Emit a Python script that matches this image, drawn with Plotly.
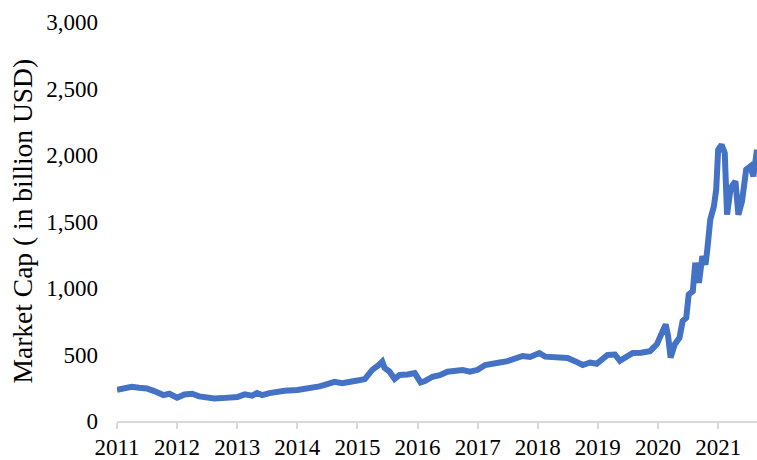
import plotly.graph_objects as go

dates = [
    "2011-01-01", "2011-02-15", "2011-04-01", "2011-05-15", "2011-07-01", "2011-08-15",
    "2011-10-10", "2011-11-15", "2012-01-01", "2012-02-15", "2012-04-01", "2012-05-15",
    "2012-07-01", "2012-08-15", "2012-10-01", "2012-11-15", "2013-01-01", "2013-02-15",
    "2013-04-01", "2013-05-01", "2013-06-01", "2013-07-15", "2013-09-01", "2013-10-15",
    "2014-01-01", "2014-02-15", "2014-04-01", "2014-05-15", "2014-07-01", "2014-08-15",
    "2014-10-01", "2014-11-15", "2015-01-01", "2015-02-15", "2015-04-01", "2015-05-15",
    "2015-06-01", "2015-06-15", "2015-07-15", "2015-08-15", "2015-09-15", "2015-11-01",
    "2015-12-15", "2016-01-20", "2016-02-15", "2016-04-01", "2016-05-15", "2016-07-01",
    "2016-08-15", "2016-10-01", "2016-11-15", "2017-01-01", "2017-02-15", "2017-04-01",
    "2017-05-15", "2017-07-01", "2017-08-15", "2017-10-01", "2017-11-15", "2018-01-10",
    "2018-02-15", "2018-04-01", "2018-05-15", "2018-07-01", "2018-08-15", "2018-10-01",
    "2018-11-15", "2018-12-25", "2019-03-01", "2019-04-15", "2019-05-15", "2019-06-15",
    "2019-08-01", "2019-09-20", "2019-11-14", "2019-12-25", "2020-01-22", "2020-02-17",
    "2020-03-03", "2020-03-18", "2020-04-12", "2020-05-11", "2020-05-30", "2020-06-21",
    "2020-07-06", "2020-07-31", "2020-08-15", "2020-09-06", "2020-09-27", "2020-10-16",
    "2020-10-27", "2020-11-14", "2020-12-06", "2020-12-20", "2021-01-01", "2021-01-22",
    "2021-02-10", "2021-02-24", "2021-03-18", "2021-04-16", "2021-05-04", "2021-05-26",
    "2021-06-20", "2021-07-16", "2021-08-03", "2021-08-25",
]

market_cap = [
    235, 245, 258, 250, 245, 225,
    195, 205, 175, 200, 205, 185,
    172, 170, 172, 175, 180, 200,
    190, 210, 195, 210, 220, 228,
    233, 240, 255, 260, 278, 295,
    285, 300, 305, 315, 384, 425,
    446, 400, 371, 316, 346, 350,
    360, 290, 300, 333, 345, 371,
    380, 383, 371, 385, 421, 425,
    440, 450, 465, 489, 481, 511,
    484, 480, 478, 474, 450, 421,
    440, 430, 496, 500, 453, 480,
    511, 513, 525, 576, 664, 726,
    638, 476, 576, 626, 751, 776,
    951, 976, 1189, 1039, 1239, 1176,
    1289, 1514, 1614, 1739, 2040, 2077,
    2015, 1551, 1752, 1802, 1551, 1652,
    1890, 1915, 1839, 2040,
]

y_title = "Market Cap ( in billion USD)"
font_family = "Liberation Serif, Times New Roman, serif"

fig = go.Figure()
fig.add_trace(go.Scatter(
    x=dates, y=market_cap, mode="lines",
    line=dict(color="#4472C4", width=6),
    hoverinfo="skip", showlegend=False,
))

fig.update_layout(
    width=757, height=460,
    margin=dict(l=117, r=0, t=22, b=39),
    paper_bgcolor="white", plot_bgcolor="white",
    font=dict(family=font_family, size=23, color="black"),
    xaxis=dict(
        type="date",
        range=["2011-01-01", "2021-08-25"],
        tick0="2011-01-01", dtick="M12", tickformat="%Y",
        showgrid=False, zeroline=False, automargin=False,
        showline=True, linecolor="#d9d9d9", linewidth=2,
        ticks="outside", tickcolor="#d9d9d9", ticklen=6, tickwidth=2,
        ticklabelstandoff=-2,
        tickfont=dict(family=font_family, size=23, color="black"),
    ),
    yaxis=dict(
        range=[0, 3000], dtick=500, tickformat=",",
        showgrid=False, zeroline=False, showline=False, ticks="",
        automargin=False,
        ticklabelstandoff=18,
        tickfont=dict(family=font_family, size=23, color="black"),
    ),
    annotations=[dict(
        text=y_title, textangle=-90, showarrow=False,
        xref="paper", yref="paper", x=0, y=0.5,
        xanchor="center", yanchor="middle", xshift=-95,
        font=dict(family=font_family, size=27.5, color="black"),
    )],
)

fig.write_html(
    "out.html",
    config={"displayModeBar": False},
    post_script="document.body.style.margin='0';document.body.style.overflow='hidden';",
)
